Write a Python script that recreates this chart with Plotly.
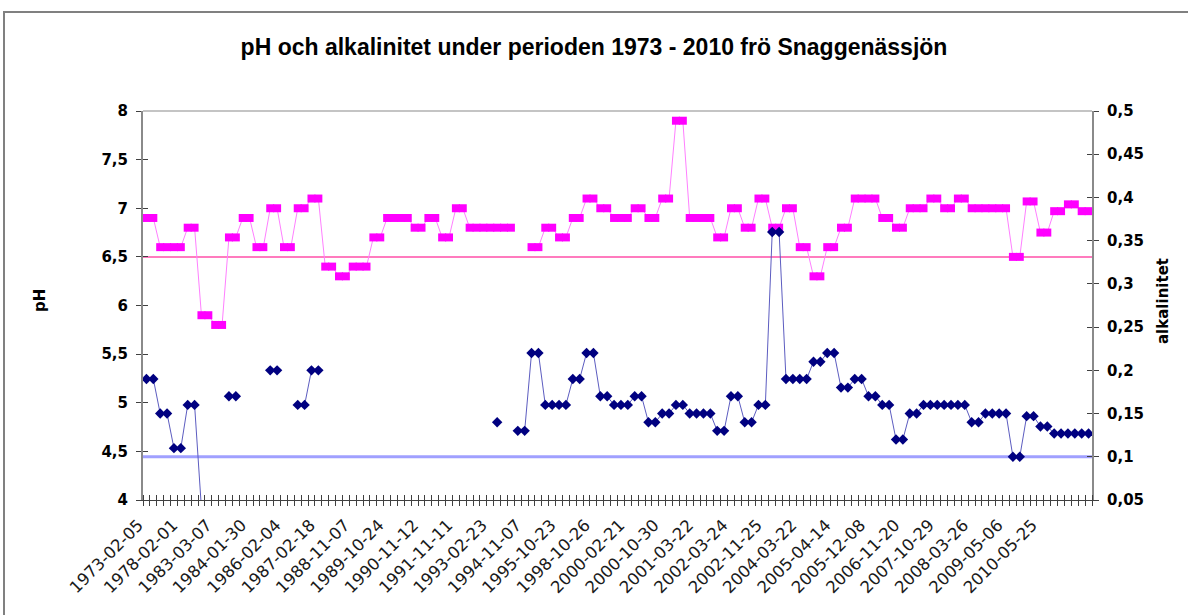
import plotly.graph_objects as go

title_text = "pH och alkalinitet under perioden 1973 - 2010 frö Snaggenässjön"

date_labels = [
    "1973-02-05", "1978-02-01", "1983-03-07", "1984-01-30", "1986-02-04",
    "1987-02-18", "1988-11-07", "1989-10-24", "1990-11-12", "1991-11-11",
    "1993-02-23", "1994-11-07", "1995-10-23", "1998-10-26", "2000-02-21",
    "2000-10-30", "2001-03-22", "2002-03-24", "2002-11-25", "2004-03-22",
    "2005-04-14", "2005-12-08", "2006-11-20", "2007-10-29", "2008-03-26",
    "2009-05-06", "2010-05-25",
]
label_step = 5
n_categories = 138
category_index = list(range(n_categories))
label_index = category_index[::label_step][:len(date_labels)]

# pH (left axis)
ph_values = [
    6.9, 6.9, 6.6, 6.6, 6.6, 6.6, 6.8, 6.8, 5.9, 5.9,
    5.8, 5.8, 6.7, 6.7, 6.9, 6.9, 6.6, 6.6, 7.0, 7.0,
    6.6, 6.6, 7.0, 7.0, 7.1, 7.1, 6.4, 6.4, 6.3, 6.3,
    6.4, 6.4, 6.4, 6.7, 6.7, 6.9, 6.9, 6.9, 6.9, 6.8,
    6.8, 6.9, 6.9, 6.7, 6.7, 7.0, 7.0, 6.8, 6.8, 6.8,
    6.8, 6.8, 6.8, 6.8, None, None, 6.6, 6.6, 6.8, 6.8,
    6.7, 6.7, 6.9, 6.9, 7.1, 7.1, 7.0, 7.0, 6.9, 6.9,
    6.9, 7.0, 7.0, 6.9, 6.9, 7.1, 7.1, 7.9, 7.9, 6.9,
    6.9, 6.9, 6.9, 6.7, 6.7, 7.0, 7.0, 6.8, 6.8, 7.1,
    7.1, 6.8, 6.8, 7.0, 7.0, 6.6, 6.6, 6.3, 6.3, 6.6,
    6.6, 6.8, 6.8, 7.1, 7.1, 7.1, 7.1, 6.9, 6.9, 6.8,
    6.8, 7.0, 7.0, 7.0, 7.1, 7.1, 7.0, 7.0, 7.1, 7.1,
    7.0, 7.0, 7.0, 7.0, 7.0, 7.0, 6.5, 6.5, 7.07, 7.07,
    6.75, 6.75, 6.97, 6.97, 7.04, 7.04, 6.97, 6.97,
]

# alkalinitet (right axis)
alk_values = [
    0.19, 0.19, 0.15, 0.15, 0.11, 0.11, 0.16, 0.16, 0.04, 0.04,
    None, None, 0.17, 0.17, None, None, None, None, 0.20, 0.20,
    None, None, 0.16, 0.16, 0.20, 0.20, None, None, None, None,
    None, None, None, None, None, None, None, None, None, None,
    None, None, None, None, None, None, None, None, None, None,
    None, 0.14, None, None, 0.13, 0.13, 0.22, 0.22, 0.16, 0.16,
    0.16, 0.16, 0.19, 0.19, 0.22, 0.22, 0.17, 0.17, 0.16, 0.16,
    0.16, 0.17, 0.17, 0.14, 0.14, 0.15, 0.15, 0.16, 0.16, 0.15,
    0.15, 0.15, 0.15, 0.13, 0.13, 0.17, 0.17, 0.14, 0.14, 0.16,
    0.16, 0.36, 0.36, 0.19, 0.19, 0.19, 0.19, 0.21, 0.21, 0.22,
    0.22, 0.18, 0.18, 0.19, 0.19, 0.17, 0.17, 0.16, 0.16, 0.12,
    0.12, 0.15, 0.15, 0.16, 0.16, 0.16, 0.16, 0.16, 0.16, 0.16,
    0.14, 0.14, 0.15, 0.15, 0.15, 0.15, 0.10, 0.10, 0.147, 0.147,
    0.135, 0.135, 0.127, 0.127, 0.127, 0.127, 0.127, 0.127,
]

ph_limit = 6.5
alk_limit = 0.1
ph_range = [4, 8]
ph_step = 0.5
alk_range = [0.05, 0.5]
alk_step = 0.05

assert len(ph_values) == n_categories and len(alk_values) == n_categories

W, H = 1188, 615
L, R, T, B = 143, 96, 111, 115
pw, ph = W - L - R, H - T - B

def px_x(p):
    return (p - L) / pw

def px_y(p):
    return (H - B - p) / ph

tick_col = "#404040"
x_range = [-0.5, n_categories - 0.5]

fig = go.Figure()
fig.add_trace(go.Scatter(
    x=category_index, y=ph_values, mode="lines+markers", name="pH",
    line=dict(color="#ff7fff", width=1),
    marker=dict(symbol="square", size=8, color="#ff00ff", line=dict(width=0)),
    connectgaps=False, showlegend=False, yaxis="y",
))
fig.add_trace(go.Scatter(
    x=category_index, y=alk_values, mode="lines+markers", name="alkalinitet",
    line=dict(color="#5c5cc0", width=1),
    marker=dict(symbol="diamond", size=8, color="#000080", line=dict(width=0)),
    connectgaps=False, showlegend=False, yaxis="y2",
))
# empty traces registering the overlay axes (cross-style tick marks)
fig.add_trace(go.Scatter(x=[], y=[], xaxis="x2", yaxis="y3", showlegend=False, hoverinfo="skip"))
fig.add_trace(go.Scatter(x=[], y=[], xaxis="x", yaxis="y4", showlegend=False, hoverinfo="skip"))

fig.update_layout(
    width=W, height=H,
    margin=dict(l=L, r=R, t=T, b=B),
    paper_bgcolor="white", plot_bgcolor="white",
    separators=", ",
    showlegend=False,
    title=dict(text=title_text, x=0.5, xanchor="center", xref="container",
               y=1 - 47 / H, yanchor="middle",
               font=dict(family="Liberation Sans", size=23, weight="bold", color="black")),
    xaxis=dict(
        range=x_range, tickmode="array", tickvals=label_index, ticktext=date_labels,
        tickangle=-45, ticks="", showline=True, linecolor=tick_col, linewidth=1,
        showgrid=False, zeroline=False, ticklabelstandoff=8, ticklabelshift=-8,
        tickfont=dict(family="DejaVu Sans", size=16.5, color="#1a1a1a"),
        minor=dict(ticks="outside", tickmode="linear", tick0=-0.5, dtick=1,
                   ticklen=5, tickwidth=1, tickcolor=tick_col, showgrid=False),
    ),
    xaxis2=dict(
        range=x_range, overlaying="x", anchor="y", side="bottom",
        showticklabels=False, ticks="", showline=False, showgrid=False, zeroline=False,
        minor=dict(ticks="inside", tickmode="linear", tick0=-0.5, dtick=1,
                   ticklen=5, tickwidth=1, tickcolor=tick_col, showgrid=False),
    ),
    yaxis=dict(
        range=ph_range, tickmode="linear", tick0=ph_range[0], dtick=ph_step,
        ticks="outside", ticklen=5, tickcolor=tick_col, tickwidth=1,
        showline=True, linecolor="#8a8a8a", linewidth=2,
        showgrid=False, zeroline=False, ticklabelstandoff=5,
        tickfont=dict(family="DejaVu Sans", size=15, weight="bold", color="black"),
    ),
    yaxis3=dict(
        range=ph_range, overlaying="y", anchor="x", side="left",
        tickmode="linear", tick0=ph_range[0], dtick=ph_step,
        ticks="inside", ticklen=5, tickcolor=tick_col, tickwidth=1,
        showticklabels=False, showline=False, showgrid=False, zeroline=False,
    ),
    yaxis2=dict(
        range=alk_range, overlaying="y", anchor="x", side="right",
        tickmode="linear", tick0=alk_range[0], dtick=alk_step,
        ticks="outside", ticklen=5, tickcolor=tick_col, tickwidth=1,
        showline=True, linecolor="#8a8a8a", linewidth=2,
        showgrid=False, zeroline=False, ticklabelstandoff=5,
        tickfont=dict(family="DejaVu Sans", size=15, weight="bold", color="black"),
    ),
    yaxis4=dict(
        range=alk_range, overlaying="y", anchor="x", side="right",
        tickmode="linear", tick0=alk_range[0], dtick=alk_step,
        ticks="inside", ticklen=5, tickcolor=tick_col, tickwidth=1,
        showticklabels=False, showline=False, showgrid=False, zeroline=False,
    ),
    shapes=[
        dict(type="line", xref="paper", x0=0, x1=1, yref="y", y0=ph_limit, y1=ph_limit,
             line=dict(color="#ff4fa8", width=1.5), layer="below"),
        dict(type="line", xref="paper", x0=0, x1=1, yref="y2", y0=alk_limit, y1=alk_limit,
             line=dict(color="#a0a0ff", width=3), layer="below"),
        dict(type="line", xref="paper", x0=0, x1=1, yref="paper", y0=1, y1=1,
             line=dict(color="#c4c4c4", width=2)),
        dict(type="rect", xref="paper", yref="paper",
             x0=px_x(4), x1=px_x(W + 10), y0=px_y(H + 10), y1=px_y(12),
             line=dict(color="#808080", width=2), fillcolor="rgba(0,0,0,0)"),
    ],
    annotations=[
        dict(text="pH", xref="paper", yref="paper", x=px_x(40), y=px_y(301),
             xanchor="center", yanchor="middle", textangle=-90, showarrow=False,
             font=dict(family="DejaVu Sans", size=15, weight="bold", color="black")),
        dict(text="alkalinitet", xref="paper", yref="paper", x=px_x(1163), y=px_y(301),
             xanchor="center", yanchor="middle", textangle=-90, showarrow=False,
             font=dict(family="DejaVu Sans", size=15, weight="bold", color="black")),
    ],
)

fig.write_html("out.html", include_plotlyjs=True, config={"displayModeBar": False},
               post_script="document.body.style.margin='0';document.body.style.overflow='hidden';")
